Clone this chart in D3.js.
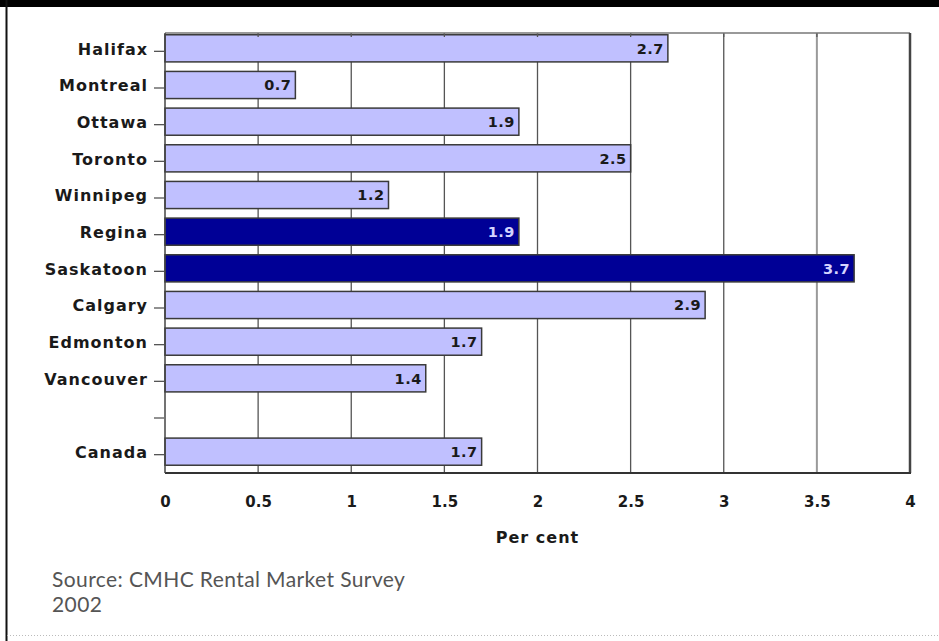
<!DOCTYPE html>
<html>
<head>
<meta charset="utf-8">
<script src="https://cdn.jsdelivr.net/npm/d3@7/dist/d3.min.js"></script>
<style>
  html, body { margin: 0; padding: 0; background: #fff; }
  svg { display: block; }
</style>
</head>
<body>
<svg id="chart" width="939" height="641"></svg>
<script>
// ---- data ----
const categories = ["Halifax","Montreal","Ottawa","Toronto","Winnipeg","Regina","Saskatoon","Calgary","Edmonton","Vancouver"," ","Canada"];
const values     = [2.7, 0.7, 1.9, 2.5, 1.2, 1.9, 3.7, 2.9, 1.7, 1.4, null, 1.7];
const highlighted = ["Regina","Saskatoon"];
const xTicks = [0, 0.5, 1, 1.5, 2, 2.5, 3, 3.5, 4];
const xTitle = "Per cent";
const sourceLines = ["Source: CMHC Rental Market Survey", "2002"];

// ---- layout ----
const W = 939, H = 641;
const plot = { left: 165, right: 910, top: 33, bottom: 473 };
const svg = d3.select("#chart");

// frame
svg.append("rect").attr("x", 0).attr("y", 0).attr("width", W).attr("height", 7).attr("fill", "#000");
svg.append("rect").attr("x", 5.5).attr("y", 0).attr("width", 2).attr("height", H).attr("fill", "#111");
svg.append("line").attr("x1", 7).attr("x2", W).attr("y1", 635.5).attr("y2", 635.5)
  .attr("stroke", "#bbb").attr("stroke-width", 1).attr("stroke-dasharray", "1,2");

const x = d3.scaleLinear().domain([0, 4]).range([plot.left, plot.right]);
const y = d3.scaleBand().domain(categories).range([plot.top, plot.bottom]).padding(0);
const step = y.step();
const barH = step * 0.74;
const barY = c => y(c) + (step - barH) / 2 - 3;

// gridlines
svg.append("g").selectAll("line").data(xTicks.filter(d => d > 0 && d < 4)).join("line")
  .attr("x1", d => x(d)).attr("x2", d => x(d))
  .attr("y1", plot.top).attr("y2", plot.bottom)
  .attr("stroke", d => d === 3.5 ? "#9a9a9a" : "#555")
  .attr("stroke-width", d => d === 3.5 ? 2 : 1.3);

// bars
const data = categories.map((c, i) => ({ c, v: values[i] })).filter(d => d.v !== null);
svg.append("g").selectAll("rect").data(data).join("rect")
  .attr("x", x(0))
  .attr("y", d => barY(d.c))
  .attr("width", d => x(d.v) - x(0))
  .attr("height", barH)
  .attr("fill", d => highlighted.includes(d.c) ? "#000096" : "#c0c0ff")
  .attr("stroke", "#3a3a3a")
  .attr("stroke-width", 1.5);

// value labels
svg.append("g").selectAll("text").data(data).join("text")
  .attr("x", d => x(d.v) - 4)
  .attr("y", d => barY(d.c) + barH / 2)
  .attr("dy", "0.37em")
  .attr("text-anchor", "end")
  .attr("font-family", "DejaVu Sans, Verdana, sans-serif")
  .attr("font-weight", "bold")
  .attr("font-size", 14.5)
  .attr("letter-spacing", 0.5)
  .attr("fill", d => highlighted.includes(d.c) ? "#d4d4ff" : "#1a1a1a")
  .text(d => d.v.toFixed(1));

// top inner ticks
svg.append("g").selectAll("line").data(xTicks.filter(d => d > 0 && d < 4)).join("line")
  .attr("x1", d => x(d)).attr("x2", d => x(d))
  .attr("y1", plot.top).attr("y2", plot.top + 4)
  .attr("stroke", "#555").attr("stroke-width", 1.3);

// plot border
svg.append("line").attr("x1", plot.left).attr("x2", plot.right).attr("y1", plot.top).attr("y2", plot.top)
  .attr("stroke", "#777").attr("stroke-width", 1.5);
svg.append("line").attr("x1", plot.right).attr("x2", plot.right).attr("y1", plot.top).attr("y2", plot.bottom)
  .attr("stroke", "#444").attr("stroke-width", 2.5);
svg.append("line").attr("x1", plot.left).attr("x2", plot.right + 1).attr("y1", plot.bottom).attr("y2", plot.bottom)
  .attr("stroke", "#333").attr("stroke-width", 2);
svg.append("line").attr("x1", plot.left).attr("x2", plot.left).attr("y1", plot.top).attr("y2", plot.bottom)
  .attr("stroke", "#444").attr("stroke-width", 1.5);

// y axis
const yAxis = svg.append("g").attr("transform", `translate(${plot.left - 1},0)`)
  .call(d3.axisLeft(y).tickSize(10).tickPadding(6).tickSizeOuter(0));
yAxis.select(".domain").remove();
yAxis.selectAll(".tick line").attr("stroke", "#555").attr("stroke-width", 1.3);
yAxis.selectAll(".tick text")
  .attr("font-family", "DejaVu Sans, Verdana, sans-serif")
  .attr("font-weight", "bold")
  .attr("font-size", 16)
  .attr("letter-spacing", 1)
  .attr("dy", "0.2em")
  .attr("fill", "#1a1a1a");

// x axis
const xAxis = svg.append("g").attr("transform", `translate(0,${plot.bottom})`)
  .call(d3.axisBottom(x).tickValues(xTicks).tickFormat(d => String(d)).tickSize(0).tickPadding(23));
xAxis.select(".domain").remove();
xAxis.selectAll(".tick text")
  .attr("font-family", "DejaVu Sans, Verdana, sans-serif")
  .attr("font-weight", "bold")
  .attr("font-size", 15)
  .attr("fill", "#1a1a1a");

svg.append("text")
  .attr("x", (plot.left + plot.right) / 2)
  .attr("y", 543)
  .attr("text-anchor", "middle")
  .attr("font-family", "DejaVu Sans, Verdana, sans-serif")
  .attr("font-weight", "bold")
  .attr("font-size", 16)
  .attr("letter-spacing", 1)
  .attr("fill", "#1a1a1a")
  .text(xTitle);

// source
svg.append("g").selectAll("text").data(sourceLines).join("text")
  .attr("x", 52)
  .attr("y", (d, i) => 587 + i * 25)
  .attr("font-family", "Lato, sans-serif")
  .attr("font-size", 21)
  .attr("letter-spacing", 0.4)
  .attr("fill", "#555")
  .text(d => d);
</script>
</body>
</html>
